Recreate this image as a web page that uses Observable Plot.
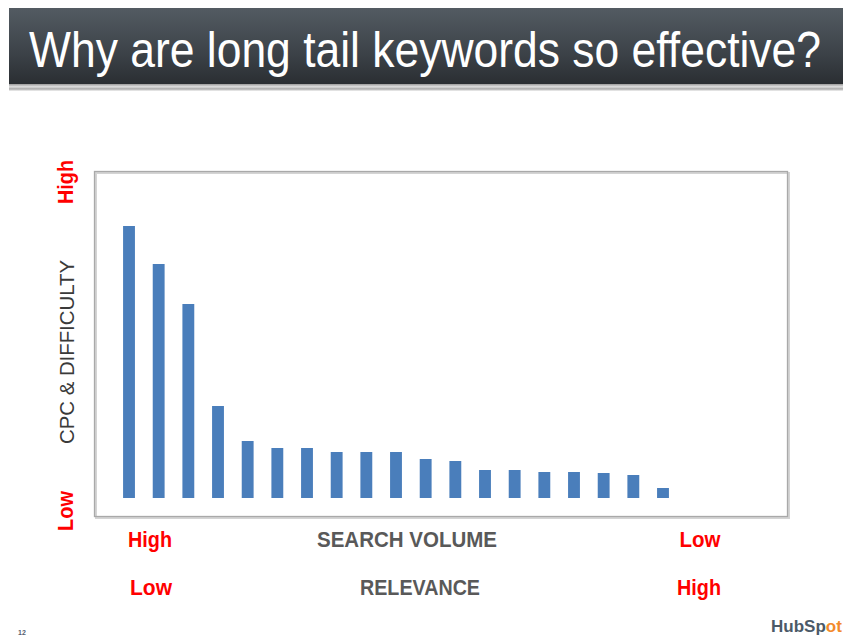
<!DOCTYPE html>
<html>
<head>
<meta charset="utf-8">
<script src="https://cdn.jsdelivr.net/npm/d3@7"></script>
<script src="https://cdn.jsdelivr.net/npm/@observablehq/plot@0.6"></script>
<style>
  html, body { margin: 0; padding: 0; background: #fff; }
  #page { position: relative; width: 843px; height: 641px; overflow: hidden; background: #fff; }
  #titlebar { position: absolute; left: 9px; top: 8px; width: 834px; height: 76px;
    background: linear-gradient(#535b62, #3c4248 60%, #2a2e32); }
  #titleline { position: absolute; left: 9px; top: 84px; width: 834px; height: 7px;
    background: linear-gradient(#9a9a9a, #e0e0e0 40%, #a8a8a8 70%, #f4f4f4); }
  #overlay { position: absolute; left: 0; top: 0; }
  #chart { position: absolute; left: 0; top: 140px; }
</style>
</head>
<body>
<div id="page">
  <div id="titlebar"></div>
  <div id="titleline"></div>
  <div id="chart"></div>
  <svg id="overlay" width="843" height="641"></svg>
</div>
<script>
// ---- data ----
const title = "Why are long tail keywords so effective?";
const keywordRank = [1, 2, 3, 4, 5, 6, 7, 8, 9, 10, 11, 12, 13, 14, 15, 16, 17, 18, 19];
const cpcDifficulty = [272, 234, 194, 92, 57, 50, 50, 46, 46, 46, 39, 37, 28, 28, 26, 26, 25, 23, 10];
const yAxisLabels = ["High", "CPC & DIFFICULTY", "Low"];
const searchVolumeLabels = ["High", "SEARCH  VOLUME", "Low"];
const relevanceLabels = ["Low", "RELEVANCE", "High"];
const slideNumber = "12";
const brand = "HubSpot";

const data = keywordRank.map((i, k) => ({i, v: cpcDifficulty[k]}));

const chart = Plot.plot({
  width: 843,
  height: 400,
  marginLeft: 94,
  marginRight: 56,
  marginTop: 31,
  marginBottom: 24,
  x: {domain: [-0.18, 23.18], axis: null},
  y: {domain: [-18, 327], axis: null},
  marks: [
    Plot.frame({stroke: "#d4d4d4", strokeWidth: 2, dx: 1.5, dy: 1.5}),
    Plot.frame({stroke: "#a9a9a9", strokeWidth: 1.3}),
    Plot.rectY(data, {x1: d => d.i - 0.2, x2: d => d.i + 0.2, y1: 0, y2: "v", fill: "#4a7ebb"})
  ]
});
document.getElementById("chart").appendChild(chart);

// ---- text overlay ----
const svg = d3.select("#overlay");
const FONT = "'Liberation Sans', Arial, sans-serif";
function label(txt, x, y, opts) {
  const t = svg.append("text")
    .attr("x", 0).attr("y", 0)
    .attr("text-anchor", "middle")
    .attr("dominant-baseline", "central")
    .style("fill", opts.fill)
    .style("font-size", opts.size + "px")
    .style("font-family", FONT)
    .style("font-weight", opts.weight || "bold")
    .text(txt);
  if (opts.len) t.attr("textLength", opts.len).attr("lengthAdjust", "spacingAndGlyphs");
  const sy = opts.sy || 1;
  t.attr("transform", `translate(${x},${y})${opts.rotate ? " rotate(-90)" : ""} scale(1,${sy})`);
  return t;
}
// Title
label(title, 425, 50, {fill: "#ffffff", size: 45, len: 792, weight: "normal", sy: 1.12});

const red = "#ff0000", gray = "#595959";
// Y-axis labels
label(yAxisLabels[0], 66, 182, {fill: red, size: 21, len: 44, rotate: true, sy: 1.05});
label(yAxisLabels[1], 66, 352, {fill: "#3a3a3a", size: 20, len: 184, rotate: true, weight: "normal", sy: 1.05});
label(yAxisLabels[2], 66, 511, {fill: red, size: 21, len: 40, rotate: true, sy: 1.05});
// Search volume row
label(searchVolumeLabels[0], 150, 540, {fill: red, size: 21, len: 44, sy: 1.05});
label(searchVolumeLabels[1], 407, 540, {fill: gray, size: 21, len: 180, sy: 1.05});
label(searchVolumeLabels[2], 700, 540, {fill: red, size: 21, len: 41, sy: 1.05});
// Relevance row
label(relevanceLabels[0], 151, 588, {fill: red, size: 21, len: 42, sy: 1.05});
label(relevanceLabels[1], 420, 588, {fill: gray, size: 21, len: 120, sy: 1.05});
label(relevanceLabels[2], 699, 588, {fill: red, size: 21, len: 44, sy: 1.05});
// Slide number
label(slideNumber, 22, 632, {fill: "#556070", size: 7});
// Brand
const b = svg.append("text").attr("x", 771).attr("y", 626).attr("dominant-baseline", "central")
  .style("font-family", FONT).style("font-weight", "bold")
  .style("font-size", "17px").style("fill", "#4b5a68");
b.append("tspan").text(brand.slice(0, 5));
b.append("tspan").style("fill", "#f38a2c").text(brand.slice(5));
</script>
</body>
</html>
